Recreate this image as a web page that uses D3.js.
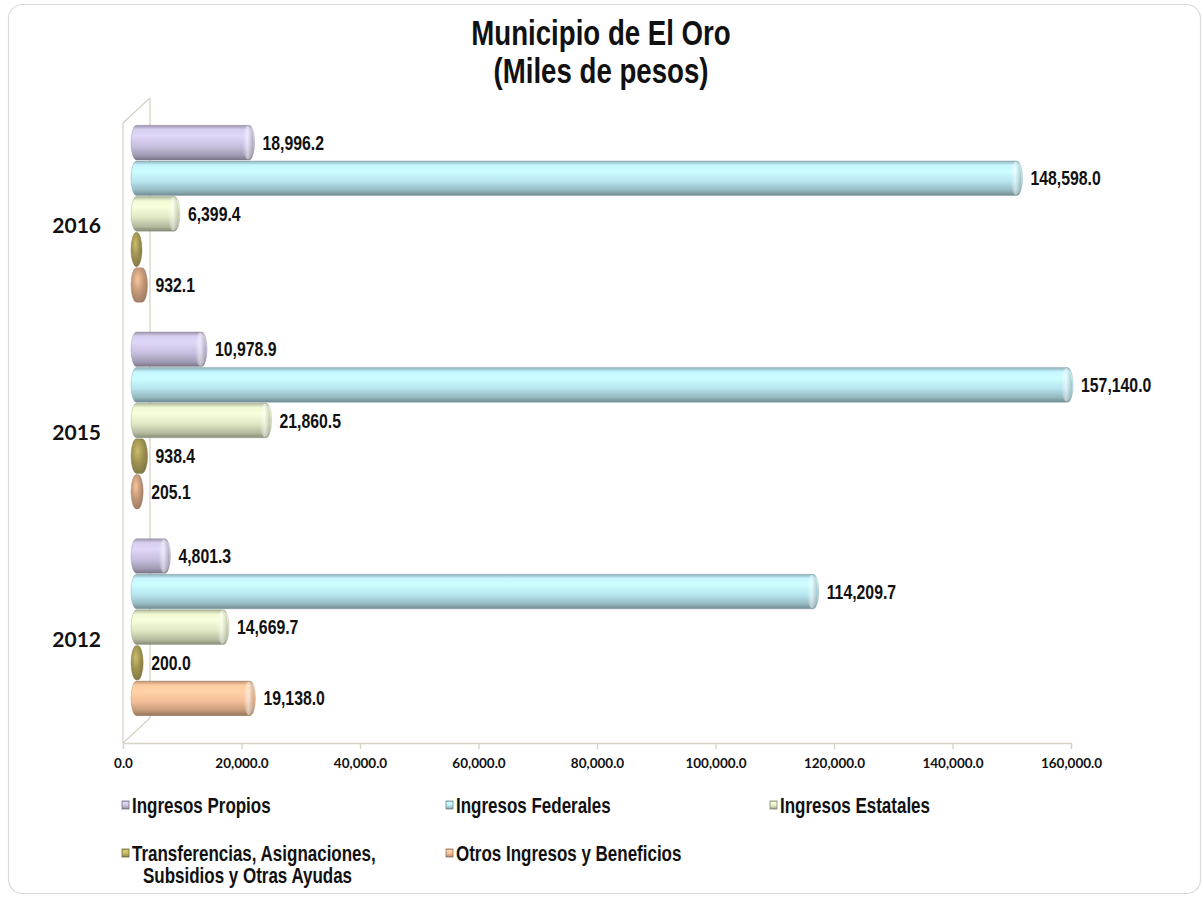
<!DOCTYPE html>
<html>
<head>
<meta charset="utf-8">
<script src="https://cdn.jsdelivr.net/npm/d3@7"></script>
<style>
    body { margin: 0; background: #fff; }
    svg { display: block; }
</style>
</head>
<body>
<svg id="chart"></svg>
<script>
// DATA

const years = ["2016", "2015", "2012"];

const seriesNames = [
    "Ingresos Propios",
    "Ingresos Federales",
    "Ingresos Estatales",
    "Transferencias, Asignaciones, Subsidios y Otras Ayudas",
    "Otros Ingresos y Beneficios"
];

// values per year, same order as seriesNames (null = no label shown)
const values2016 = [18996.2, 148598.0, 6399.4, null, 932.1];
const values2015 = [10978.9, 157140.0, 21860.5, 938.4, 205.1];
const values2012 = [4801.3, 114209.7, 14669.7, 200.0, 19138.0];

const tickValues = [0, 20000, 40000, 60000, 80000, 100000, 120000, 140000, 160000];

const seriesColors = ["#c9c0df", "#b7e4ee", "#dfe8c4", "#c4b665", "#f2bd96"];


// SETUP

const width = 1203;
const height = 901;

const svg = d3.select("#chart")
    .attr("width", width)
    .attr("height", height);

const valuesByYear = { "2016": values2016, "2015": values2015, "2012": values2012 };

// depth of the 3d box
const depthX = 27;
const depthY = -25;

const x = d3.scaleLinear()
    .domain([0, 160000])
    .range([123, 1071]);

const y = d3.scaleBand()
    .domain(years)
    .range([123, 743])
    .paddingInner(0.139)
    .paddingOuter(0.0695);

const yInner = d3.scaleBand()
    .domain(seriesNames)
    .range([0, y.bandwidth()]);

// no narrow font installed, so squeeze Liberation Sans a bit
const labelFont = "'Liberation Sans', Arial, sans-serif";
const narrow = 0.79;

function narrowText(parent, px, py, txt, size, anchor) {
    return parent.append("text")
        .attr("transform", "translate(" + px + "," + py + ") scale(" + narrow + ",1)")
        .attr("text-anchor", anchor || "start")
        .attr("font-family", labelFont)
        .attr("font-weight", "bold")
        .attr("font-size", size)
        .attr("fill", "#111")
        .text(txt);
}


// frame

svg.append("rect")
    .attr("x", 8.5)
    .attr("y", 4.5)
    .attr("width", 1192)
    .attr("height", 889)
    .attr("rx", 14)
    .attr("fill", "#fff")
    .attr("stroke", "#dadada")
    .attr("stroke-width", 1.2);


// gradients

const defs = svg.append("defs");

seriesColors.forEach(function (color, i) {

    const c = d3.color(color);

    const grad = defs.append("linearGradient")
        .attr("id", "grad" + i)
        .attr("x1", 0).attr("y1", 0)
        .attr("x2", 0).attr("y2", 1);

    grad.append("stop").attr("offset", "0%").attr("stop-color", c.darker(0.7));
    grad.append("stop").attr("offset", "12%").attr("stop-color", c.brighter(0.2));
    grad.append("stop").attr("offset", "30%").attr("stop-color", c.brighter(0.3));
    grad.append("stop").attr("offset", "60%").attr("stop-color", c);
    grad.append("stop").attr("offset", "86%").attr("stop-color", c.darker(0.6));
    grad.append("stop").attr("offset", "100%").attr("stop-color", c.darker(1.4));

    const capGrad = defs.append("linearGradient")
        .attr("id", "cap" + i)
        .attr("x1", 0).attr("y1", 0)
        .attr("x2", 1).attr("y2", 0);

    capGrad.append("stop").attr("offset", "0%").attr("stop-color", "#fff").attr("stop-opacity", 0);
    capGrad.append("stop").attr("offset", "45%").attr("stop-color", "#fff").attr("stop-opacity", 0.5);
    capGrad.append("stop").attr("offset", "100%").attr("stop-color", c.darker(0.9)).attr("stop-opacity", 0.6);

    // end-on look for the very short bars
    const sideGrad = defs.append("radialGradient")
        .attr("id", "side" + i)
        .attr("cx", "40%").attr("cy", "35%").attr("r", "70%");

    sideGrad.append("stop").attr("offset", "0%").attr("stop-color", c.brighter(0.1));
    sideGrad.append("stop").attr("offset", "50%").attr("stop-color", c.darker(0.6));
    sideGrad.append("stop").attr("offset", "100%").attr("stop-color", c.darker(1.2));

});


// TITLE

narrowText(svg, 601, 45, "Municipio de El Oro", 35, "middle");
narrowText(svg, 601, 83, "(Miles de pesos)", 35, "middle");


// 3D BOX LINES

const wallColor = "#d6d2c4";
const x0 = x(0);
const yTop = y.range()[0];
const yBottom = y.range()[1];

const box = svg.append("g")
    .attr("stroke", wallColor)
    .attr("stroke-width", 1.3)
    .attr("fill", "none");

box.append("line")
    .attr("x1", x0 + depthX).attr("y1", yTop + depthY)
    .attr("x2", x0 + depthX).attr("y2", yBottom + depthY);

box.append("line")
    .attr("x1", x0).attr("y1", yTop)
    .attr("x2", x0).attr("y2", yBottom);

box.append("line")
    .attr("x1", x0).attr("y1", yTop)
    .attr("x2", x0 + depthX).attr("y2", yTop + depthY);

box.append("line")
    .attr("x1", x0).attr("y1", yBottom)
    .attr("x2", x0 + depthX).attr("y2", yBottom + depthY);


// X AXIS

const xAxis = d3.axisBottom(x)
    .tickValues(tickValues)
    .tickSize(6)
    .tickFormat(d3.format(",.1f"));

const axisG = svg.append("g")
    .attr("transform", "translate(0," + yBottom + ")")
    .call(xAxis);

axisG.select(".domain").attr("stroke", wallColor).attr("stroke-width", 1.3);
axisG.selectAll(".tick line").attr("stroke", wallColor).attr("stroke-width", 1.3);
axisG.selectAll(".tick text")
    .attr("fill", "#111")
    .attr("font-family", "Lato, sans-serif")
    .attr("font-weight", "bold")
    .attr("font-size", 13.5)
    .attr("dy", "1.2em");


// YEAR LABELS

svg.selectAll(".yearLabel")
    .data(years)
    .enter()
    .append("text")
    .attr("class", "yearLabel")
    .attr("x", 101)
    .attr("y", function (d) { return y(d) + y.bandwidth() / 2 + 7; })
    .attr("text-anchor", "end")
    .attr("font-family", "Lato, sans-serif")
    .attr("font-weight", "bold")
    .attr("font-size", 21)
    .attr("fill", "#111")
    .text(function (d) { return d; });


// BARS (cylinders)

const capRx = 5.5;
const shiftX = depthX / 2;
const shiftY = depthY / 2;

let barData = [];

for (let year of years) {
    const vals = valuesByYear[year];
    for (let i = 0; i < seriesNames.length; i++) {
        barData.push({ year: year, series: i, value: vals[i] });
    }
}

function barTop(d) {
    return y(d.year) + yInner(seriesNames[d.series]) + shiftY;
}

function cylinderPath(d) {
    const top = barTop(d) + 0.5;
    const h = yInner.bandwidth() - 1;
    const ry = h / 2;
    const left = x(0) + shiftX;
    const right = x(d.value || 0) + shiftX;
    return "M" + left + "," + top +
        " L" + right + "," + top +
        " A" + capRx + "," + ry + " 0 0 1 " + right + "," + (top + h) +
        " L" + left + "," + (top + h) +
        " A" + capRx + "," + ry + " 0 0 1 " + left + "," + top + " Z";
}

const barsG = svg.append("g");

barsG.selectAll(".bar")
    .data(barData)
    .enter()
    .append("path")
    .attr("class", "bar")
    .attr("d", cylinderPath)
    .attr("fill", function (d) {
        if (d.value === null || d.value < 3000) {
            return "url(#side" + d.series + ")";
        }
        return "url(#grad" + d.series + ")";
    })
    .attr("stroke", function (d) { return d3.color(seriesColors[d.series]).darker(1.2); })
    .attr("stroke-width", 0.6)
    .attr("stroke-opacity", 0.6);

// highlight near the right end
barsG.selectAll(".cap")
    .data(barData.filter(function (d) { return d.value > 3000; }))
    .enter()
    .append("ellipse")
    .attr("class", "cap")
    .attr("cx", function (d) { return x(d.value) + shiftX - 1; })
    .attr("cy", function (d) { return barTop(d) + yInner.bandwidth() / 2; })
    .attr("rx", capRx)
    .attr("ry", yInner.bandwidth() / 2 - 1)
    .attr("fill", function (d) { return "url(#cap" + d.series + ")"; });


// VALUE LABELS

const labelsG = svg.append("g");

for (let d of barData) {
    if (d.value === null) {
        continue;
    }
    narrowText(
        labelsG,
        x(d.value) + shiftX + capRx + 8,
        barTop(d) + yInner.bandwidth() / 2 + 7,
        d3.format(",.1f")(d.value),
        20
    );
}


// LEGEND

const legendX = [122, 446, 770];
const legendY = [805, 853];

const legend = svg.selectAll(".legendItem")
    .data(seriesNames)
    .enter()
    .append("g")
    .attr("class", "legendItem")
    .attr("transform", function (d, i) {
        return "translate(" + legendX[i % 3] + "," + legendY[Math.floor(i / 3)] + ")";
    });

legend.append("rect")
    .attr("x", 0)
    .attr("y", -4)
    .attr("width", 7)
    .attr("height", 8)
    .attr("fill", function (d, i) { return "url(#grad" + i + ")"; })
    .attr("stroke", function (d, i) { return d3.color(seriesColors[i]).darker(1.5); })
    .attr("stroke-width", 0.8);

legend.each(function (d) {
    const g = d3.select(this);
    let lines = [d];
    if (d.indexOf("Transferencias") === 0) {
        lines = ["Transferencias, Asignaciones,", "Subsidios y Otras Ayudas"];
    }
    lines.forEach(function (line, k) {
        narrowText(g, k === 0 ? 10 : 21, 7.5 + k * 22, line, 21.5);
    });
});
</script>
</body>
</html>
